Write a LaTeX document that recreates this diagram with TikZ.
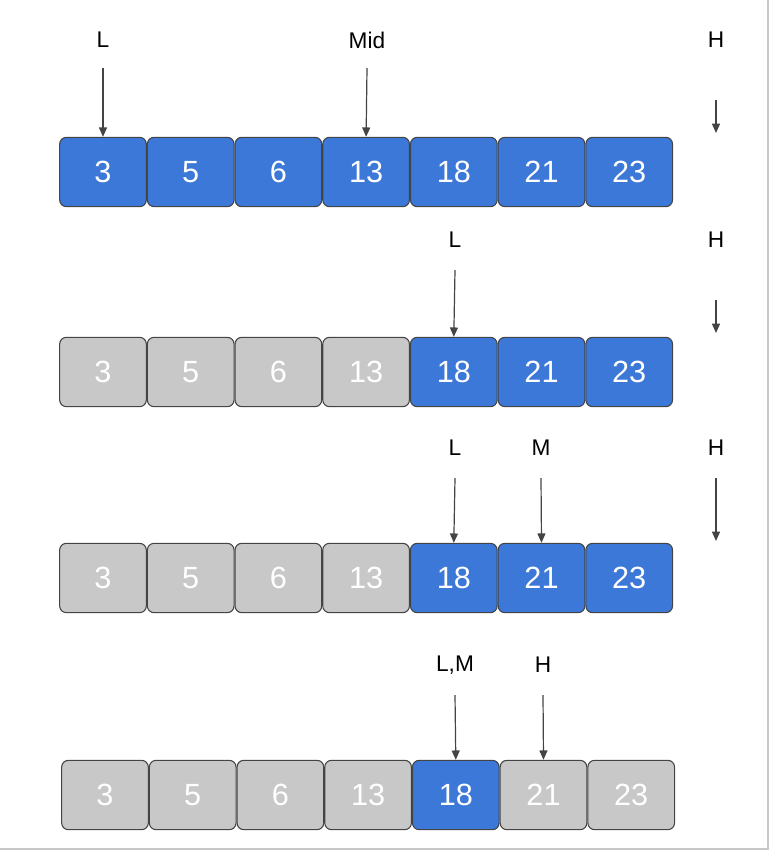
\documentclass[tikz,border=0pt]{standalone}
\usepackage{fontspec}
\setmainfont{Liberation Sans}
\usetikzlibrary{arrows.meta}
\definecolor{bl}{HTML}{3C78D8}
\definecolor{gr}{HTML}{C8C8C8}
\definecolor{ln}{HTML}{444444}
\begin{document}
\begin{tikzpicture}[x=0.75pt,y=-0.75pt,
 cell/.style={draw=ln,line width=0.8pt,rounded corners=5pt,minimum width=65pt,minimum height=52pt,text=white,font=\fontsize{23}{26}\selectfont,inner sep=0pt},
 bcell/.style={cell,fill=bl},
 gcell/.style={cell,fill=gr},
 lab/.style={font=\fontsize{17}{20}\selectfont,inner sep=0pt},
 arr/.style={draw=ln,line width=0.9pt,-{Triangle[length=7pt,width=6pt]}}]
\useasboundingbox (0,0) rectangle (770,852);
\draw[gr,line width=1pt] (768,0) -- (768,849) -- (0,849);
% row 1
\foreach \v [count=\i] in {3,5,6,13,18,21,23}
  \node[bcell] (a\i) at ({103+(\i-1)*87.7},172) {\v};
\node[lab] (l1) at (103,40) {L};
\node[lab] (m1) at (367,40) {Mid};
\node[lab] (h1) at (716,40) {H};
\coordinate (h1s) at (716,100); \coordinate (h1e) at (716,133);
\draw[arr] (l1) ++(0,28) -- (a1.north);
\draw[arr] (m1) ++(0,28) -- (a4.north);
\draw[arr] (h1s) -- (h1e);
% row 2
\foreach \v [count=\i] in {3,5,6,13,18,21,23}{
  \ifnum\i<5 \node[gcell] (b\i) at ({103+(\i-1)*87.7},372) {\v};
  \else \node[bcell] (b\i) at ({103+(\i-1)*87.7},372) {\v}; \fi}
\node[lab] (l2) at (455,240) {L};
\node[lab] (h2) at (716,240) {H};
\coordinate (h2s) at (716,300); \coordinate (h2e) at (716,333);
\draw[arr] (l2) ++(0,30) -- (b5.north);
\draw[arr] (h2s) -- (h2e);
% row 3
\foreach \v [count=\i] in {3,5,6,13,18,21,23}{
  \ifnum\i<5 \node[gcell] (c\i) at ({103+(\i-1)*87.7},578) {\v};
  \else \node[bcell] (c\i) at ({103+(\i-1)*87.7},578) {\v}; \fi}
\node[lab] (l3) at (455,448) {L};
\node[lab] (m3) at (541,448) {M};
\node[lab] (h3) at (716,448) {H};
\coordinate (h3s) at (716,478); \coordinate (h3e) at (716,541);
\draw[arr] (l3) ++(0,30) -- (c5.north);
\draw[arr] (m3) ++(0,30) -- (c6.north);
\draw[arr] (h3s) -- (h3e);
% row 4
\foreach \v [count=\i] in {3,5,6,13,18,21,23}{
  \ifnum\i=5 \node[bcell] (d\i) at ({105+(\i-1)*87.7},795) {\v};
  \else \node[gcell] (d\i) at ({105+(\i-1)*87.7},795) {\v}; \fi}
\node[lab] (l4) at (455,665) {L,M};
\node[lab] (h4) at (543,665) {H};
\draw[arr] (l4) ++(0,30) -- (d5.north);
\draw[arr] (h4) ++(0,30) -- (d6.north);
\end{tikzpicture}
\end{document}
